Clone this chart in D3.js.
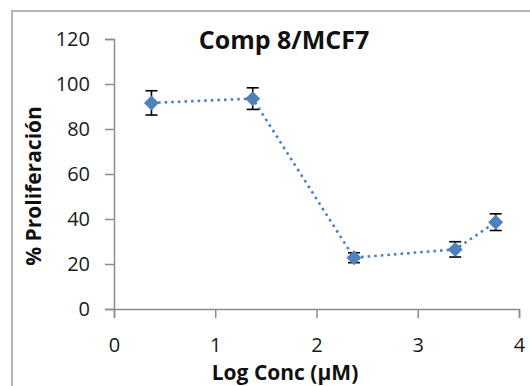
<!DOCTYPE html>
<html>
<head>
<meta charset="utf-8">
<script src="https://cdn.jsdelivr.net/npm/d3@7"></script>
<style>
  html, body { margin: 0; padding: 0; background: #fff; }
  svg { display: block; }
  text { font-family: "Open Sans", "Liberation Sans", sans-serif; }
</style>
</head>
<body>
<div id="chart"></div>
<script>
// Proliferation of MCF7 cells vs. log concentration of compound 8
const logConc = [0.37, 1.37, 2.37, 3.37, 3.77];
const proliferation = [91.6, 93.5, 22.8, 26.5, 38.6];
const errorSD = [5.4, 4.8, 2.2, 3.4, 3.7];
const yTicks = [0, 20, 40, 60, 80, 100, 120];
const xTicks = [0, 1, 2, 3, 4];
const chartTitle = "Comp 8/MCF7";
const xTitle = "Log Conc (µM)";
const yTitle = "% Proliferación";

const W = 530, H = 386;
const blue = "#4f81bd";
const axisGrey = "#8c8c8c";

const svg = d3.select("#chart").append("svg")
  .attr("width", W).attr("height", H);

svg.append("rect").attr("width", W).attr("height", H).attr("fill", "#fff");

// chart frame
svg.append("rect")
  .attr("x", 12).attr("y", 11)
  .attr("width", W + 20).attr("height", H + 20)
  .attr("fill", "none").attr("stroke", "#b4b4b4").attr("stroke-width", 2);

const x = d3.scaleLinear().domain([0, 4]).range([114, 519]);
const y = d3.scaleLinear().domain([0, 120]).range([309, 39]);

// y axis
const yAxis = svg.append("g")
  .attr("transform", `translate(${x(0)},0)`)
  .call(d3.axisLeft(y).tickValues(yTicks).tickSize(9).tickPadding(15));
// x axis
const xAxis = svg.append("g")
  .attr("transform", `translate(0,${y(0)})`)
  .call(d3.axisBottom(x).tickValues(xTicks).tickSize(9).tickPadding(20).tickFormat(d3.format("d")));

[yAxis, xAxis].forEach(g => {
  g.select(".domain").attr("stroke", axisGrey).attr("stroke-width", 1.5);
  g.selectAll(".tick line").attr("stroke", axisGrey).attr("stroke-width", 1.5);
  g.selectAll(".tick text")
    .attr("fill", "#1a1a1a")
    .style("font-size", "20px")
    .style("font-family", "'Open Sans', sans-serif");
});

const pts = logConc.map((v, i) => ({ x: v, y: proliferation[i], e: errorSD[i] }));

// dotted connecting line
svg.append("path")
  .datum(pts)
  .attr("fill", "none")
  .attr("stroke", blue)
  .attr("stroke-width", 2.6)
  .attr("stroke-dasharray", "2.6,4")
  .attr("d", d3.line().x(d => x(d.x)).y(d => y(d.y)));

// error bars
const capHalf = 6;
const eb = svg.append("g").attr("stroke", "#000").attr("stroke-width", 1.6);
pts.forEach(d => {
  const cx = x(d.x), top = y(d.y + d.e), bot = y(d.y - d.e);
  eb.append("line").attr("x1", cx).attr("x2", cx).attr("y1", top).attr("y2", bot);
  eb.append("line").attr("x1", cx - capHalf).attr("x2", cx + capHalf).attr("y1", top).attr("y2", top);
  eb.append("line").attr("x1", cx - capHalf).attr("x2", cx + capHalf).attr("y1", bot).attr("y2", bot);
});

// diamond markers
const r = 7.5;
svg.append("g").selectAll("path")
  .data(pts).join("path")
  .attr("d", d => {
    const cx = x(d.x), cy = y(d.y);
    return `M${cx},${cy - r}L${cx + r},${cy}L${cx},${cy + r}L${cx - r},${cy}Z`;
  })
  .attr("fill", blue);

// titles
svg.append("text")
  .attr("x", 284).attr("y", 49)
  .attr("text-anchor", "middle")
  .style("font-size", "25px").style("font-weight", "bold")
  .attr("fill", "#111")
  .text(chartTitle);

svg.append("text")
  .attr("x", 285).attr("y", 380)
  .attr("text-anchor", "middle")
  .style("font-size", "21px").style("font-weight", "bold")
  .attr("fill", "#111")
  .text(xTitle);

svg.append("text")
  .attr("transform", "translate(41,186) rotate(-90)")
  .attr("text-anchor", "middle")
  .style("font-size", "21px").style("font-weight", "bold")
  .attr("fill", "#111")
  .text(yTitle);
</script>
</body>
</html>
